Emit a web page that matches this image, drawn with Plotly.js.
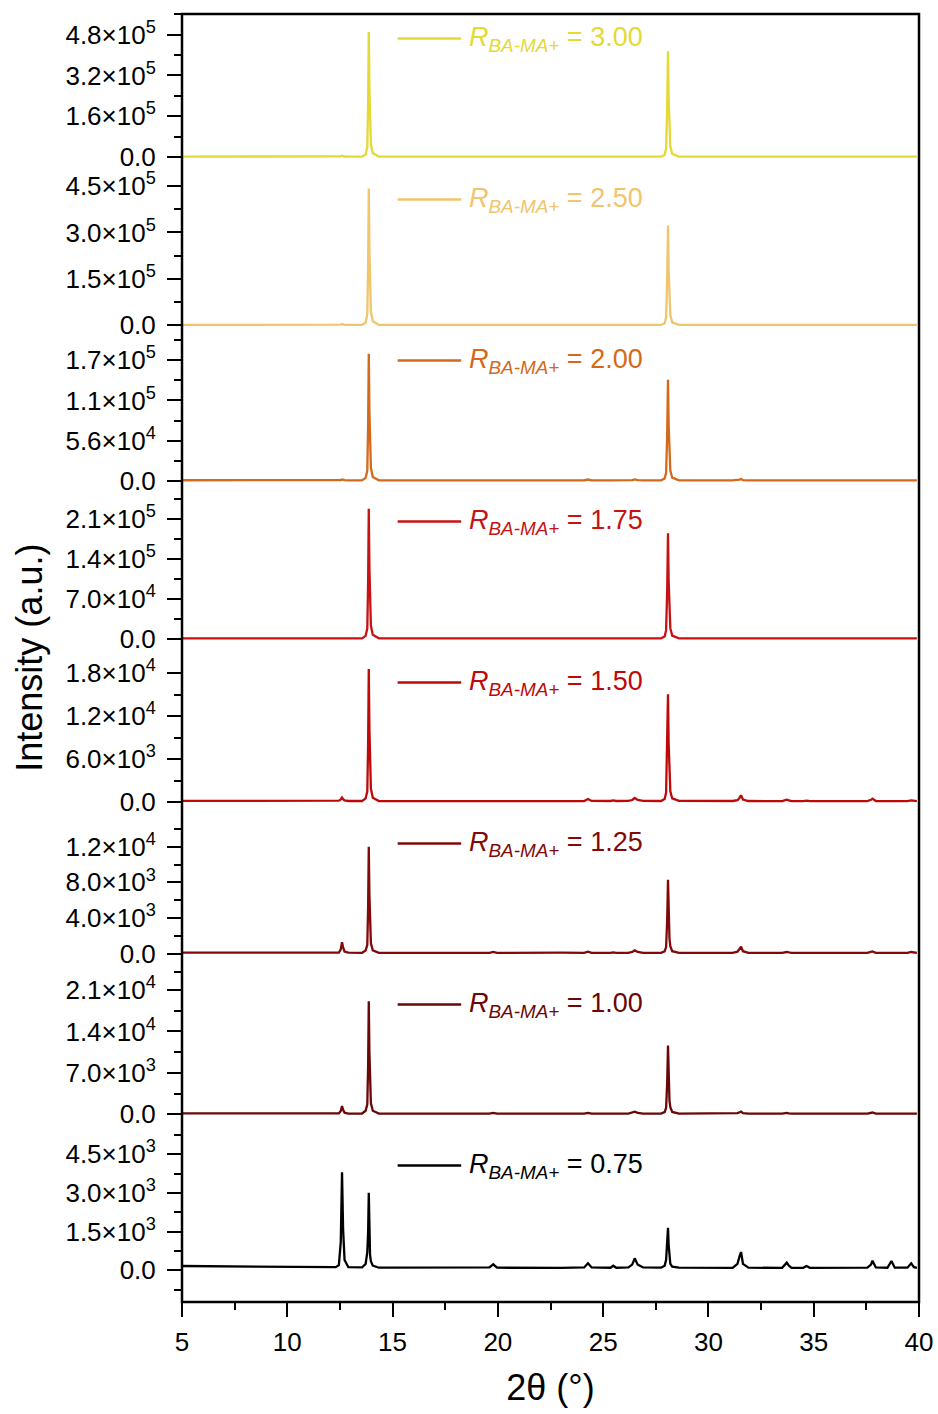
<!DOCTYPE html>
<html><head><meta charset="utf-8">
<script src="https://cdn.plot.ly/plotly-3.0.1.min.js"></script>
<style>html,body{margin:0;padding:0;background:#fff}</style>
</head><body><div id="chart" style="width:938px;height:1414px"></div>
<script>
// 2θ sample positions (deg)
const twoTheta = [
  5.0, 8.0, 11.0, 12.3,
  12.45, 12.54, 12.60, 12.65, 12.72, 12.90,
  13.55, 13.72, 13.80, 13.84, 13.87, 13.90, 13.93, 13.97, 14.06, 14.35,
  17.0, 19.6, 19.78, 19.96,
  23.0, 24.1, 24.28, 24.45,
  25.35, 25.48, 25.62,
  26.2, 26.38, 26.5, 26.64, 26.9,
  27.75, 27.92, 27.99, 28.04, 28.08, 28.11, 28.15, 28.19, 28.28, 28.6,
  31.15, 31.38, 31.48, 31.55, 31.64, 31.9,
  33.5, 33.72, 33.82, 33.95,
  34.5, 34.66, 34.82,
  37.55, 37.72, 37.79, 37.95,
  38.5, 38.69, 38.85,
  39.45, 39.63, 39.76, 39.9
];
const ratioLabels = ["3.00","2.50","2.00","1.75","1.50","1.25","1.00","0.75"];

const int300 = [
  1500,1500,1500,1500,
  1700,2600,5000,3000,1900,1500,
  1500,10000,40000,220000,490000,270000,100000,50000,15000,1500,
  1500,1500,1800,1500,
  1500,1500,1800,1500,
  1500,1600,1500,
  1500,1700,2600,1700,1500,
  1500,8000,33000,187000,415000,228000,83000,42000,12000,1500,
  1500,1600,2200,2800,1800,1500,
  1500,1700,1500,1500,
  1500,1500,1500,
  1500,1600,1800,1500,
  1500,1500,1500,
  1500,1500,1500,1500
];
const int250 = [
  1200,1200,1200,1200,
  1300,2000,4000,2500,1500,1200,
  1200,9000,36000,199000,442000,243000,88000,44000,13000,1200,
  1200,1200,1500,1200,
  1200,1200,1500,1200,
  1200,1300,1200,
  1200,1400,2200,1400,1200,
  1200,6500,26000,145000,322000,177000,64000,32000,9600,1200,
  1200,1300,1800,2300,1500,1200,
  1200,1400,1200,1200,
  1200,1200,1200,
  1200,1300,1500,1200,
  1200,1200,1200,
  1200,1200,1200,1200
];
const int200 = [
  600,550,500,500,
  550,900,1800,1100,700,500,
  500,4000,14000,80000,177000,97000,35000,18000,5300,500,
  500,500,900,500,
  500,500,1600,500,
  500,600,500,
  500,800,1900,800,500,
  500,3000,11000,63000,141000,78000,28000,14000,4200,500,
  500,700,1500,2400,900,500,
  500,1300,800,500,
  500,600,500,
  500,900,1500,500,
  500,600,500,
  500,700,500,500
];
const int175 = [
  700,650,600,600,
  650,900,1500,1000,700,600,
  600,5000,18000,103000,228000,125000,46000,23000,6800,600,
  600,600,800,600,
  600,600,1000,600,
  600,650,600,
  600,800,1300,800,600,
  600,4000,15000,83000,185000,102000,37000,18500,5500,600,
  600,700,1100,1500,800,600,
  600,900,700,600,
  600,600,600,
  600,700,1000,600,
  600,600,600,
  600,600,600,600
];
const int150 = [
  160,140,130,130,
  180,350,620,400,220,140,
  140,500,1500,8400,18600,10200,3700,1900,600,140,
  130,130,230,130,
  160,140,420,150,
  140,220,140,
  150,280,560,280,150,
  140,420,1300,6800,15050,8300,3000,1500,500,150,
  140,260,600,930,350,140,
  130,330,220,130,
  130,190,130,
  130,300,470,140,
  130,200,130,
  130,230,140,130
];
const int125 = [
  110,100,90,90,
  130,500,1300,700,250,110,
  100,350,1000,5400,12000,6600,2400,1200,380,100,
  90,90,200,90,
  110,100,220,100,
  90,150,90,
  100,200,370,200,100,
  90,260,750,3700,8300,4600,1700,850,280,100,
  90,220,500,780,280,90,
  90,190,140,90,
  90,120,90,
  90,180,260,100,
  90,150,90,
  90,190,110,90
];
const int100 = [
  140,130,120,120,
  160,550,1400,750,280,130,
  130,600,1700,8600,19100,10500,3800,1900,600,130,
  120,120,250,120,
  130,120,250,120,
  120,160,120,
  130,250,450,250,130,
  120,380,1100,5200,11600,6400,2300,1200,400,130,
  120,200,350,450,200,120,
  120,250,170,120,
  120,150,120,
  120,220,300,120,
  120,150,120,
  120,200,130,120
];
const int075 = [
  167,140,110,120,
  200,1100,3800,1600,400,120,
  110,250,700,1500,3008,1600,600,350,180,100,
  100,110,232,100,
  95,110,271,110,
  100,178,100,
  110,220,465,220,110,
  100,180,400,900,1650,1000,420,250,140,100,
  95,250,550,709,250,100,
  95,295,180,95,
  95,167,95,
  100,220,372,110,
  100,360,100,
  100,271,120,90
];

// y tick values and labels per panel (top to bottom)
const tickVals300 = [0,160000,320000,480000];
const tickText300 = ["0.0","1.6×10<sup>5</sup>","3.2×10<sup>5</sup>","4.8×10<sup>5</sup>"];
const tickVals250 = [0,150000,300000,450000];
const tickText250 = ["0.0","1.5×10<sup>5</sup>","3.0×10<sup>5</sup>","4.5×10<sup>5</sup>"];
const tickVals200 = [0,56000,112000,168000];
const tickText200 = ["0.0","5.6×10<sup>4</sup>","1.1×10<sup>5</sup>","1.7×10<sup>5</sup>"];
const tickVals175 = [0,70000,140000,210000];
const tickText175 = ["0.0","7.0×10<sup>4</sup>","1.4×10<sup>5</sup>","2.1×10<sup>5</sup>"];
const tickVals150 = [0,6000,12000,18000];
const tickText150 = ["0.0","6.0×10<sup>3</sup>","1.2×10<sup>4</sup>","1.8×10<sup>4</sup>"];
const tickVals125 = [0,4000,8000,12000];
const tickText125 = ["0.0","4.0×10<sup>3</sup>","8.0×10<sup>3</sup>","1.2×10<sup>4</sup>"];
const tickVals100 = [0,7000,14000,21000];
const tickText100 = ["0.0","7.0×10<sup>3</sup>","1.4×10<sup>4</sup>","2.1×10<sup>4</sup>"];
const tickVals075 = [0,1500,3000,4500];
const tickText075 = ["0.0","1.5×10<sup>3</sup>","3.0×10<sup>3</sup>","4.5×10<sup>3</sup>"];

const xTickVals = [5,10,15,20,25,30,35,40];

// ---- styling / layout config ----
const series = [int300,int250,int200,int175,int150,int125,int100,int075];
const tickVals = [tickVals300,tickVals250,tickVals200,tickVals175,tickVals150,tickVals125,tickVals100,tickVals075];
const tickTexts = [tickText300,tickText250,tickText200,tickText175,tickText150,tickText125,tickText100,tickText075];
const colors = ["#E5D935","#F0C56C","#D4691B","#C51313","#BE0909","#820909","#6A0707","#000000"];
const ranges = [[-70588,560784],[-34560,485500],[-22743,201900],[-33860,248600],[-2378,20140],[-2950,15106],[-4511,22690],[-1230,5016]];
const minorStep = [80000,75000,28000,35000,3000,2000,3500,750];

const FONT = "Liberation Sans, Arial, Helvetica, sans-serif";
const n = series.length;
const panelFrac = 1/n;
const traces = [];
const layout = {
  width: 938, height: 1414,
  margin: {l: 182, r: 19, t: 14, b: 112},
  paper_bgcolor: "#fff", plot_bgcolor: "#fff",
  showlegend: false,
  font: {family: FONT, size: 26, color: "#000"},
  xaxis: {
    range: [5, 40], anchor: "y8", domain: [0, 1],
    tickmode: "array", tickvals: xTickVals,
    ticks: "outside", ticklen: 14, tickwidth: 2, tickcolor: "#000",
    minor: {dtick: 2.5, tick0: 5, ticks: "outside", ticklen: 7, tickwidth: 2, tickcolor: "#000"},
    showgrid: false, zeroline: false, showline: false,
    tickfont: {family: FONT, size: 26, color: "#000"},
    ticklabelstandoff: 3,
    title: {text: "2θ (°)", font: {family: FONT, size: 36, color: "#000"}, standoff: 18}
  },
  shapes: [], annotations: []
};

for (let i = 0; i < n; i++) {
  const id = i === 0 ? "" : String(i + 1);
  traces.push({
    type: "scatter", mode: "lines",
    x: twoTheta, y: series[i],
    xaxis: "x", yaxis: "y" + id,
    line: {color: colors[i], width: 2.3},
    name: ratioLabels[i], hoverinfo: "skip"
  });
  const d0 = 1 - (i + 1) * panelFrac, d1 = 1 - i * panelFrac;
  layout["yaxis" + id] = {
    domain: [d0, d1], anchor: "x", range: ranges[i],
    tickmode: "array", tickvals: tickVals[i], ticktext: tickTexts[i],
    ticks: "outside", ticklen: 14, tickwidth: 2, tickcolor: "#000",
    minor: {dtick: minorStep[i], tick0: 0, ticks: "outside", ticklen: 7, tickwidth: 2, tickcolor: "#000"},
    showgrid: false, zeroline: false, showline: false,
    tickfont: {family: FONT, size: 26, color: "#000"},
    ticklabelstandoff: 6
  };
  const ly = 1 - 24.5 / 161;
  layout.shapes.push({
    type: "line", xref: "paper", yref: "y" + id + " domain",
    x0: 0.2926, x1: 0.3788, y0: ly, y1: ly,
    line: {color: colors[i], width: 2.5}
  });
  layout.annotations.push({
    xref: "paper", yref: "y" + id + " domain",
    x: 0.387, y: ly, xanchor: "left", yanchor: "middle",
    showarrow: false,
    text: "<i>R</i><sub><i>BA-MA+</i></sub> = " + ratioLabels[i],
    font: {family: FONT, size: 27, color: colors[i]}
  });
}
// y-axis title spanning all panels
layout.annotations.push({
  xref: "paper", yref: "paper", x: -0.208, y: 0.5,
  xanchor: "center", yanchor: "middle", textangle: -90, showarrow: false,
  text: "Intensity (a.u.)", font: {family: FONT, size: 36, color: "#000"}
});
// frame
layout.shapes.push({
  type: "rect", xref: "paper", yref: "paper", x0: 0, x1: 1, y0: 0, y1: 1,
  line: {color: "#000", width: 2.5}, layer: "above"
});

Plotly.newPlot("chart", traces, layout, {staticPlot: true, displayModeBar: false});
</script>
</body></html>
